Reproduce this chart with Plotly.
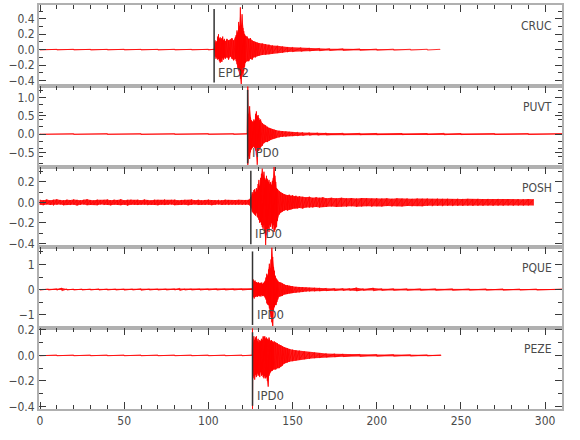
"""Five-station seismogram panels with phase picks."""

import plotly.graph_objects as go
from plotly.subplots import make_subplots

# Station names, top to bottom
STATIONS = ["CRUC", "PUVT", "POSH", "PQUE", "PEZE"]

# Phase picks: (time in s, label)
PICK_TIMES = [103.4, 123.3, 125.2, 126.2, 126.2]
PICK_LABELS = ["EPD2", "IPD0", "IPD0", "IPD0", "IPD0"]

# Amplitude envelopes: (time, upper, lower)
CRUC_ENV = [
    (0, 0.004, -0.004), (10, 0.004, -0.004), (20, 0.005, -0.004), (30, 0.004, -0.005),
    (40, 0.004, -0.004), (50, 0.005, -0.004), (60, 0.004, -0.004), (70, 0.004, -0.005),
    (80, 0.005, -0.004), (90, 0.004, -0.004), (100, 0.005, -0.005), (103.4, 0.006, -0.006),
    (104.0, 0.12, -0.09), (104.5, 0.09, -0.12), (105.0, 0.11, -0.10), (105.5, 0.17, -0.13),
    (106.0, 0.20, -0.12), (106.5, 0.14, -0.15), (107.0, 0.16, -0.17), (107.5, 0.13, -0.14),
    (108.0, 0.15, -0.16), (108.5, 0.17, -0.11), (109.0, 0.12, -0.13), (109.5, 0.14, -0.10),
    (110.0, 0.11, -0.12), (111.0, 0.14, -0.10), (112.0, 0.12, -0.13), (113.0, 0.13, -0.09),
    (114.0, 0.15, -0.12), (115.0, 0.12, -0.14), (116.0, 0.16, -0.12), (116.5, 0.19, -0.15),
    (117.0, 0.25, -0.19), (117.5, 0.22, -0.24), (118.0, 0.36, -0.27), (118.5, 0.30, -0.33),
    (119.0, 0.55, -0.38), (119.5, 0.32, -0.46), (120.0, 0.46, -0.30), (120.5, 0.28, -0.35),
    (121.0, 0.24, -0.28), (121.5, 0.20, -0.22), (122.0, 0.18, -0.17), (123.0, 0.17, -0.15),
    (124.0, 0.14, -0.15), (125.0, 0.15, -0.12), (126.0, 0.12, -0.13), (127.0, 0.11, -0.10),
    (128.0, 0.10, -0.10), (129.0, 0.09, -0.085), (130.0, 0.085, -0.08), (132.0, 0.08, -0.07),
    (134.0, 0.07, -0.065), (136.0, 0.065, -0.06), (138.0, 0.055, -0.05), (141.0, 0.05, -0.045),
    (144.0, 0.04, -0.04), (147.0, 0.035, -0.032), (150.0, 0.03, -0.027), (155.0, 0.025, -0.022),
    (160.0, 0.02, -0.018), (166.0, 0.016, -0.015), (172.0, 0.013, -0.012), (180.0, 0.011, -0.010),
    (190.0, 0.009, -0.008), (200.0, 0.007, -0.007), (210.0, 0.006, -0.006), (220.0, 0.005, -0.005),
    (230.0, 0.005, -0.005), (237.5, 0.004, -0.004),
]

PUVT_ENV = [
    (0, 0.01, -0.01), (20, 0.01, -0.01), (40, 0.012, -0.01), (60, 0.01, -0.012),
    (80, 0.01, -0.01), (100, 0.012, -0.01), (115, 0.01, -0.01), (123.0, 0.012, -0.012),
    (123.4, 1.30, -0.88), (124.0, 0.55, -0.60), (124.5, 0.76, -0.68), (125.0, 0.45, -0.50),
    (125.5, 0.38, -0.42), (126.0, 0.35, -0.38), (126.5, 0.32, -0.36), (127.0, 0.40, -0.33),
    (127.5, 0.36, -0.38), (128.0, 0.55, -0.45), (128.5, 0.62, -0.58), (129.0, 0.48, -0.84),
    (129.5, 0.52, -0.46), (130.0, 0.44, -0.45), (130.5, 0.38, -0.40), (131.0, 0.40, -0.36),
    (132.0, 0.30, -0.32), (133.0, 0.26, -0.25), (134.0, 0.24, -0.22), (135.0, 0.20, -0.22),
    (136.0, 0.17, -0.19), (137.0, 0.15, -0.16), (138.0, 0.13, -0.13), (139.0, 0.12, -0.12),
    (140.0, 0.11, -0.11), (142.0, 0.09, -0.09), (144.0, 0.08, -0.075), (146.0, 0.07, -0.07),
    (148.0, 0.06, -0.055), (150.0, 0.055, -0.05), (153.0, 0.05, -0.048), (156.0, 0.045, -0.04),
    (160.0, 0.035, -0.035), (165.0, 0.03, -0.03), (170.0, 0.028, -0.025), (180.0, 0.022, -0.02),
    (190.0, 0.02, -0.018), (200.0, 0.018, -0.017), (215.0, 0.016, -0.016), (230.0, 0.015, -0.015),
    (240.0, 0.02, -0.02), (250.0, 0.015, -0.015), (270.0, 0.014, -0.014), (290.0, 0.014, -0.013),
    (310.0, 0.013, -0.013),
]

POSH_ENV = [
    (0, 0.025, -0.022), (2, 0.022, -0.027), (4, 0.028, -0.020), (6, 0.020, -0.025),
    (8, 0.026, -0.030), (10, 0.030, -0.023), (12, 0.024, -0.021), (14, 0.021, -0.028),
    (16, 0.027, -0.024), (18, 0.023, -0.026), (20, 0.029, -0.022), (22, 0.025, -0.030),
    (24, 0.022, -0.024), (26, 0.026, -0.021), (28, 0.031, -0.027), (30, 0.024, -0.025),
    (32, 0.020, -0.023), (34, 0.027, -0.028), (36, 0.023, -0.020), (38, 0.025, -0.026),
    (40, 0.028, -0.024), (42, 0.022, -0.029), (44, 0.026, -0.022), (46, 0.024, -0.025),
    (48, 0.030, -0.027), (50, 0.021, -0.023), (52, 0.025, -0.031), (54, 0.027, -0.024),
    (56, 0.023, -0.022), (58, 0.026, -0.026), (60, 0.022, -0.024), (62, 0.028, -0.021),
    (64, 0.024, -0.027), (66, 0.020, -0.023), (68, 0.026, -0.025), (70, 0.025, -0.028),
    (72, 0.023, -0.022), (74, 0.029, -0.026), (76, 0.022, -0.024), (78, 0.025, -0.021),
    (80, 0.027, -0.027), (82, 0.021, -0.023), (84, 0.024, -0.025), (86, 0.026, -0.022),
    (88, 0.023, -0.028), (90, 0.028, -0.024), (92, 0.022, -0.021), (94, 0.025, -0.026),
    (96, 0.020, -0.023), (98, 0.024, -0.025), (100, 0.027, -0.022), (102, 0.023, -0.027),
    (104, 0.021, -0.024), (106, 0.025, -0.020), (108, 0.022, -0.025), (110, 0.026, -0.023),
    (112, 0.024, -0.026), (114, 0.020, -0.022), (116, 0.023, -0.024), (118, 0.025, -0.021),
    (120, 0.022, -0.025), (122, 0.024, -0.023), (124, 0.026, -0.024),
    (125.2, 0.05, -0.05), (126.0, 0.10, -0.09), (126.5, 0.08, -0.10), (127.0, 0.12, -0.11),
    (127.5, 0.13, -0.12), (128.0, 0.10, -0.13), (128.5, 0.14, -0.10), (129.0, 0.12, -0.14),
    (129.5, 0.18, -0.15), (130.0, 0.22, -0.17), (130.5, 0.16, -0.20), (131.0, 0.24, -0.19),
    (131.5, 0.28, -0.22), (132.0, 0.33, -0.24), (132.5, 0.26, -0.26), (133.0, 0.30, -0.22),
    (133.5, 0.24, -0.30), (134.0, 0.22, -0.42), (134.5, 0.26, -0.32), (135.0, 0.23, -0.28),
    (135.5, 0.20, -0.25), (136.0, 0.22, -0.29), (136.5, 0.18, -0.22), (137.0, 0.20, -0.24),
    (137.5, 0.17, -0.20), (138.0, 0.21, -0.26), (138.5, 0.24, -0.22), (139.0, 0.35, -0.29),
    (139.5, 0.26, -0.27), (140.0, 0.20, -0.25), (140.5, 0.14, -0.24), (141.0, 0.13, -0.18),
    (142.0, 0.11, -0.12), (143.0, 0.10, -0.10), (144.0, 0.09, -0.09), (145.0, 0.08, -0.08),
    (146.0, 0.075, -0.075), (147.0, 0.07, -0.08), (148.0, 0.075, -0.07), (149.0, 0.065, -0.07),
    (150.0, 0.07, -0.065), (151.0, 0.06, -0.06), (152.0, 0.065, -0.06), (153.0, 0.055, -0.06),
    (154.0, 0.06, -0.055), (156.0, 0.055, -0.06), (158.0, 0.05, -0.05), (160.0, 0.055, -0.05),
    (162.0, 0.045, -0.05), (164.0, 0.05, -0.045), (166.0, 0.045, -0.05), (168.0, 0.05, -0.045),
    (170.0, 0.04, -0.045), (173.0, 0.045, -0.04), (176.0, 0.04, -0.045), (179.0, 0.045, -0.04),
    (182.0, 0.04, -0.042), (185.0, 0.043, -0.038), (188.0, 0.038, -0.043), (191.0, 0.042, -0.04),
    (194.0, 0.04, -0.037), (197.0, 0.037, -0.042), (200.0, 0.041, -0.038), (203.0, 0.038, -0.04),
    (206.0, 0.04, -0.036), (209.0, 0.036, -0.04), (212.0, 0.04, -0.037), (215.0, 0.037, -0.039),
    (218.0, 0.039, -0.035), (221.0, 0.035, -0.038), (224.0, 0.038, -0.036), (227.0, 0.036, -0.038),
    (230.0, 0.038, -0.034), (233.0, 0.034, -0.037), (236.0, 0.037, -0.035), (239.0, 0.035, -0.037),
    (242.0, 0.036, -0.033), (245.0, 0.033, -0.036), (248.0, 0.036, -0.034), (251.0, 0.034, -0.035),
    (254.0, 0.035, -0.032), (257.0, 0.032, -0.035), (260.0, 0.035, -0.033), (263.0, 0.033, -0.034),
    (266.0, 0.034, -0.031), (269.0, 0.031, -0.034), (272.0, 0.034, -0.032), (275.0, 0.032, -0.033),
    (278.0, 0.033, -0.030), (281.0, 0.030, -0.033), (284.0, 0.033, -0.031), (287.0, 0.031, -0.032),
    (290.0, 0.032, -0.030), (293.0, 0.030, -0.030),
]

PQUE_ENV = [
    (0, 0.02, -0.02), (5, 0.02, -0.02), (10, 0.03, -0.025), (13, 0.06, -0.05),
    (16, 0.025, -0.02), (20, 0.02, -0.02), (25, 0.02, -0.02), (30, 0.02, -0.02),
    (35, 0.025, -0.02), (40, 0.02, -0.02), (45, 0.02, -0.02), (50, 0.02, -0.025),
    (55, 0.02, -0.02), (60, 0.03, -0.03), (65, 0.02, -0.02), (70, 0.02, -0.02),
    (75, 0.02, -0.02), (80, 0.025, -0.02), (83, 0.05, -0.04), (86, 0.02, -0.02),
    (90, 0.02, -0.02), (95, 0.02, -0.02), (100, 0.02, -0.02), (105, 0.025, -0.02),
    (110, 0.02, -0.02), (115, 0.02, -0.02), (120, 0.02, -0.02), (125.8, 0.02, -0.02),
    (126.2, 0.05, -0.05), (126.7, 0.40, -0.30), (127.2, 0.32, -0.36), (127.7, 0.36, -0.28),
    (128.2, 0.28, -0.30), (128.7, 0.30, -0.26), (129.2, 0.26, -0.29), (129.7, 0.29, -0.24),
    (130.2, 0.24, -0.27), (130.7, 0.27, -0.25), (131.2, 0.25, -0.28), (131.7, 0.28, -0.22),
    (132.2, 0.22, -0.26), (132.7, 0.26, -0.24), (133.2, 0.30, -0.27), (133.7, 0.35, -0.32),
    (134.2, 0.48, -0.40), (134.7, 0.63, -0.55), (135.2, 0.55, -0.60), (135.7, 0.80, -0.62),
    (136.2, 1.03, -0.75), (136.7, 0.85, -0.90), (137.2, 1.20, -1.10), (137.7, 1.68, -1.30),
    (138.2, 1.30, -1.54), (138.7, 0.90, -0.82), (139.2, 0.75, -0.70), (139.7, 0.55, -0.62),
    (140.2, 0.44, -0.62), (140.7, 0.40, -0.50), (141.2, 0.35, -0.40), (142.0, 0.30, -0.29),
    (143.0, 0.28, -0.27), (144.0, 0.24, -0.25), (145.0, 0.20, -0.20), (146.0, 0.18, -0.19),
    (147.0, 0.17, -0.18), (148.0, 0.15, -0.16), (149.0, 0.14, -0.15), (150.0, 0.13, -0.14),
    (152.0, 0.11, -0.12), (154.0, 0.10, -0.11), (156.0, 0.09, -0.10), (158.0, 0.08, -0.08),
    (160.0, 0.07, -0.07), (163.0, 0.065, -0.065), (166.0, 0.06, -0.06), (170.0, 0.05, -0.05),
    (175.0, 0.045, -0.045), (180.0, 0.04, -0.04), (184.0, 0.04, -0.035), (188.0, 0.07, -0.06),
    (192.0, 0.035, -0.035), (198.0, 0.06, -0.05), (203.0, 0.035, -0.035), (210.0, 0.035, -0.03),
    (218.0, 0.03, -0.03), (226.0, 0.03, -0.03), (235.0, 0.03, -0.03), (245.0, 0.03, -0.03),
    (255.0, 0.025, -0.025), (265.0, 0.025, -0.025), (275.0, 0.025, -0.025), (285.0, 0.02, -0.02),
    (295.0, 0.02, -0.02), (310.0, 0.02, -0.02),
]

PEZE_ENV = [
    (0, 0.003, -0.003), (10, 0.003, -0.003), (20, 0.003, -0.003), (30, 0.003, -0.003),
    (40, 0.003, -0.003), (50, 0.003, -0.003), (60, 0.003, -0.003), (70, 0.003, -0.003),
    (80, 0.003, -0.003), (90, 0.003, -0.003), (100, 0.003, -0.003), (110, 0.003, -0.003),
    (120, 0.003, -0.003), (126.0, 0.003, -0.003),
    (126.2, 0.213, -0.42), (126.5, 0.10, -0.18), (127.0, 0.15, -0.16), (127.5, 0.12, -0.19),
    (128.0, 0.14, -0.15), (128.5, 0.15, -0.17), (129.0, 0.11, -0.14), (129.5, 0.13, -0.16),
    (130.0, 0.10, -0.15), (130.5, 0.12, -0.17), (131.0, 0.11, -0.13), (131.5, 0.13, -0.16),
    (132.0, 0.12, -0.15), (132.5, 0.15, -0.17), (133.0, 0.14, -0.18), (133.5, 0.15, -0.16),
    (134.0, 0.13, -0.18), (134.5, 0.14, -0.17), (135.0, 0.13, -0.20), (135.5, 0.12, -0.245),
    (136.0, 0.14, -0.16), (136.5, 0.12, -0.14), (137.0, 0.11, -0.13), (137.5, 0.12, -0.12),
    (138.0, 0.11, -0.12), (138.5, 0.10, -0.11), (139.0, 0.11, -0.11), (140.0, 0.10, -0.11),
    (141.0, 0.095, -0.10), (142.0, 0.085, -0.10), (143.0, 0.08, -0.09), (144.0, 0.07, -0.08),
    (145.0, 0.065, -0.065), (146.0, 0.06, -0.06), (147.0, 0.055, -0.055), (148.0, 0.05, -0.05),
    (150.0, 0.045, -0.045), (152.0, 0.04, -0.04), (154.0, 0.037, -0.034), (157.0, 0.03, -0.03),
    (160.0, 0.026, -0.026), (163.0, 0.022, -0.022), (166.0, 0.018, -0.018), (170.0, 0.014, -0.014),
    (175.0, 0.012, -0.012), (180.0, 0.01, -0.01), (190.0, 0.008, -0.008), (200.0, 0.007, -0.007),
    (210.0, 0.006, -0.006), (220.0, 0.005, -0.005), (230.0, 0.004, -0.004), (238.0, 0.004, -0.004),
]

ENVELOPES = [CRUC_ENV, PUVT_ENV, POSH_ENV, PQUE_ENV, PEZE_ENV]

# Per-panel y axis settings
Y_RANGES = [[-0.47, 0.58], [-0.89, 1.32], [-0.44, 0.35], [-1.54, 1.68], [-0.42, 0.213]]
Y_DTICK = [0.2, 0.5, 0.2, 1, 0.2]
Y_MINOR = [0.1, 0.2, 0.1, 0.5, 0.1]
Y_FORMAT = [".1f", ".1f", ".1f", "d", ".1f"]

FONT = "Liberation Sans Narrow, DejaVu Sans Condensed, Arial Narrow, sans-serif"
FRAME = "#b0b0b0"
TICK = "#3a3a3a"
TEXT = "#4a4a4a"

fig = make_subplots(rows=5, cols=1, shared_xaxes=True, vertical_spacing=0)

for i, env in enumerate(ENVELOPES):
    times = [e[0] for e in env]
    upper = [e[1] for e in env]
    lower = [e[2] for e in env]

    # solid band between the envelopes
    fig.add_trace(go.Scatter(
        x=times + times[::-1], y=upper + lower[::-1],
        mode="lines", fill="toself", fillcolor="rgba(255,0,0,0.88)",
        line=dict(width=0), hoverinfo="skip", showlegend=False,
    ), row=i + 1, col=1)

    # zigzag between upper and lower envelope at each sample time
    xs, ys = [], []
    for t, hi, lo in env:
        xs += [t, t]
        ys += [hi, lo]
    fig.add_trace(go.Scatter(
        x=xs, y=ys, mode="lines",
        line=dict(color="#ff0000", width=0.8),
        hoverinfo="skip", showlegend=False,
    ), row=i + 1, col=1)

    yref = "y domain" if i == 0 else f"y{i + 1} domain"
    xref = "x" if i == 0 else f"x{i + 1}"

    # pick marker
    fig.add_shape(
        type="line", xref=xref, yref=yref,
        x0=PICK_TIMES[i], x1=PICK_TIMES[i], y0=0.04, y1=0.95,
        line=dict(color="#333333", width=1.5), layer="above",
    )
    fig.add_annotation(
        x=PICK_TIMES[i], y=0.17, xref=xref, yref=yref,
        text=PICK_LABELS[i], showarrow=False, xanchor="left", yanchor="middle",
        xshift=2, font=dict(family=FONT, size=13, color=TEXT),
    )
    # station name
    fig.add_annotation(
        x=0.985, y=0.74, xref="paper", yref=yref,
        text=STATIONS[i], showarrow=False, xanchor="right", yanchor="middle",
        font=dict(family=FONT, size=12, color=TEXT),
    )

    fig.update_yaxes(
        range=Y_RANGES[i], dtick=Y_DTICK[i], tick0=0, tickformat=Y_FORMAT[i],
        minor=dict(dtick=Y_MINOR[i], tick0=0, ticks="inside", ticklen=4,
                   tickcolor=TICK, showgrid=False),
        row=i + 1, col=1,
    )

    # upper panels carry their time ticks along the top edge only
    if i < 4:
        fig.update_xaxes(side="top", mirror=True, showticklabels=False, row=i + 1, col=1)
    else:
        fig.update_xaxes(side="bottom", mirror="allticks", row=i + 1, col=1)

fig.update_xaxes(
    range=[-0.6, 310], dtick=50, tick0=0, automargin=False,
    showline=True, linecolor=FRAME, linewidth=2,
    ticks="inside", ticklen=7, tickwidth=1, tickcolor=TICK,
    minor=dict(dtick=10, tick0=0, ticks="inside", ticklen=4, tickcolor=TICK, showgrid=False),
    showgrid=False, zeroline=False,
    tickfont=dict(family=FONT, size=12, color=TEXT),
)
fig.update_yaxes(
    automargin=False,
    showline=True, linecolor=FRAME, linewidth=2, mirror="allticks",
    ticks="inside", ticklen=7, tickwidth=1, tickcolor=TICK,
    showgrid=False, zeroline=False,
    tickfont=dict(family=FONT, size=12, color=TEXT),
)

fig.update_layout(
    width=580, height=440,
    margin=dict(l=39, r=18, t=5, b=31),
    paper_bgcolor="white", plot_bgcolor="white",
    showlegend=False,
)

# drop the page's default body margin so the figure sits at the window corner
fig.write_html(
    "out.html",
    config={"displayModeBar": False},
    post_script="document.body.style.margin='0';",
)
